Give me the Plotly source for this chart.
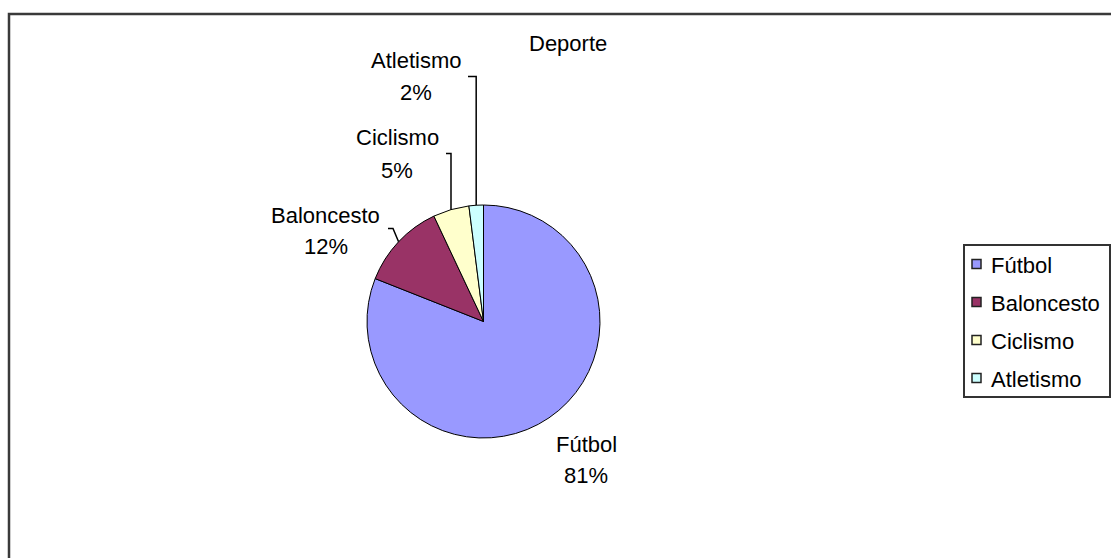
import math
import plotly.graph_objects as go

# Datos
deportes = ["Fútbol", "Baloncesto", "Ciclismo", "Atletismo"]
porcentajes = [81, 12, 5, 2]
colores = ["#9999FF", "#993366", "#FFFFCC", "#CCFFFF"]
titulo = "Deporte"

W, H = 1111, 558
FONT = "Liberation Sans, Arial, sans-serif"
FS = 22

# Geometry of the pie (pixels)
cx, cy, r = 483.5, 321.5, 116.5


def px(x):
    return x / W


def py(y):
    return 1 - y / H


fig = go.Figure(
    go.Pie(
        labels=deportes,
        values=porcentajes,
        sort=False,
        direction="clockwise",
        rotation=0,
        marker=dict(colors=colores, line=dict(color="#000000", width=1)),
        textinfo="none",
        hoverinfo="label+percent",
        domain=dict(x=[px(cx - r), px(cx + r)], y=[py(cy + r), py(cy - r)]),
        showlegend=False,
    )
)

shapes = []
annotations = []

# Outer chart frame
shapes.append(dict(type="rect", xref="paper", yref="paper",
                   x0=px(9), x1=px(W + 20), y0=py(14), y1=py(H + 20),
                   line=dict(color="#3a3a3a", width=2.5), fillcolor="rgba(0,0,0,0)"))

# Title
annotations.append(dict(text=titulo, x=px(568), y=py(44), xref="paper", yref="paper",
                        xanchor="center", yanchor="middle", showarrow=False,
                        font=dict(family=FONT, size=FS, color="#000")))

# Label placement (label centre x, first-line y, second-line y, leader style)
label_pos = {
    "Fútbol": (586, 444, 475, None),
    "Baloncesto": (326, 215, 246, "direct"),
    "Ciclismo": (397, 137, 170, "elbow"),
    "Atletismo": (416, 60, 93, "elbow"),
}
label_half_w = {"Fútbol": 31, "Baloncesto": 58, "Ciclismo": 45, "Atletismo": 48}

total = sum(porcentajes)
acum = 0.0
for nombre, valor in zip(deportes, porcentajes):
    mid = (acum + valor / 2) / total * 2 * math.pi
    acum += valor
    ex = cx + r * math.sin(mid)
    ey = cy - r * math.cos(mid)
    lx, y1, y2, estilo = label_pos[nombre]
    pct = f"{valor / total * 100:.0f}%"
    for txt, yy in ((nombre, y1), (pct, y2)):
        annotations.append(dict(text=txt, x=px(lx), y=py(yy), xref="paper", yref="paper",
                                xanchor="center", yanchor="middle", showarrow=False,
                                font=dict(family=FONT, size=FS, color="#000")))
    ymid = (y1 + y2) / 2
    right = lx + label_half_w[nombre] + 4
    if estilo == "elbow":
        path = f"M {px(ex)} {py(ey)} L {px(ex)} {py(ymid)} L {px(right)} {py(ymid)}"
        shapes.append(dict(type="path", xref="paper", yref="paper", path=path,
                           line=dict(color="#000", width=1.5)))
    elif estilo == "direct":
        path = (f"M {px(right)} {py(ymid - 2)} L {px(right + 5)} {py(ymid - 2)} "
                f"L {px(ex)} {py(ey)}")
        shapes.append(dict(type="path", xref="paper", yref="paper", path=path,
                           line=dict(color="#000", width=1.5)))

# Legend box with entries
leg_x0, leg_x1, leg_y0, leg_y1 = 964, 1110, 245, 397
shapes.append(dict(type="rect", xref="paper", yref="paper",
                   x0=px(leg_x0), x1=px(leg_x1), y0=py(leg_y1), y1=py(leg_y0),
                   line=dict(color="#333", width=2), fillcolor="#fff"))
for i, (nombre, color) in enumerate(zip(deportes, colores)):
    yc = 264 + 38 * i
    shapes.append(dict(type="rect", xref="paper", yref="paper",
                       x0=px(972), x1=px(981), y0=py(yc + 4.5), y1=py(yc - 4.5),
                       line=dict(color="#222", width=1.5), fillcolor=color))
    annotations.append(dict(text=nombre, x=px(989), y=py(yc + 1), xref="paper", yref="paper",
                            xanchor="left", yanchor="middle", showarrow=False,
                            font=dict(family=FONT, size=FS, color="#000")))

fig.update_layout(
    width=W, height=H,
    margin=dict(l=0, r=0, t=0, b=0),
    paper_bgcolor="#ffffff",
    plot_bgcolor="#ffffff",
    shapes=shapes,
    annotations=annotations,
    showlegend=False,
)

fig.write_html("out.html")
